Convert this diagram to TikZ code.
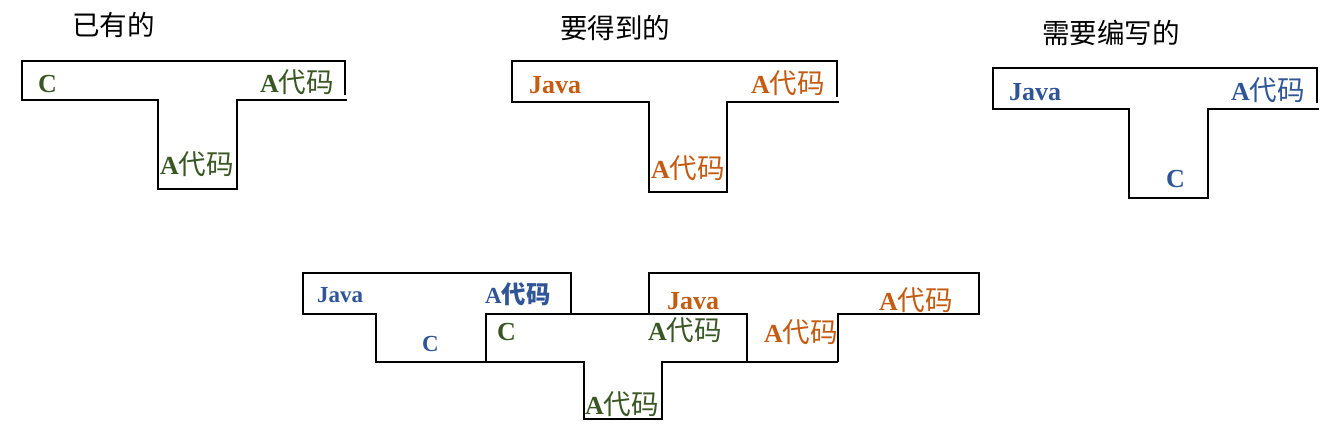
\documentclass[tikz,border=0pt]{standalone}
\usepackage{fontspec}
\setmainfont{Liberation Serif}
\newfontfamily\cjk[Scale=1.06]{Noto Sans CJK SC}
\definecolor{CodeGreen}{HTML}{385723}
\definecolor{CodeOrange}{HTML}{C55A11}
\definecolor{CodeBlue}{HTML}{2F5597}
\definecolor{CodeBlack}{HTML}{000000}
\usepackage{tikz}
\usetikzlibrary{positioning}
\newcommand{\acode}{A{\cjk\mdseries 代码}}
\newcommand{\acodebold}{A{\cjk 代码}}
\tikzset{
    outline/.style={
        draw=CodeBlack,
        line width=1.6pt,
        line join=miter
    },
    heading/.style={
        font=\cjk\fontsize{26}{30}\selectfont,
        text=CodeBlack,
        anchor=base west,
        inner sep=0pt
    },
    label/.style={
        font=\bfseries\fontsize{26}{30}\selectfont,
        text=#1,
        anchor=base west,
        inner sep=0pt
    },
    label/.default=CodeGreen,
    smalllabel/.style={
        font=\bfseries\fontsize{23}{27}\selectfont,
        text=#1,
        anchor=base west,
        inner sep=0pt
    },
    smalllabel/.default=CodeBlue
}

\begin{document}
\begin{tikzpicture}[x=1pt, y=-1pt]
        \useasboundingbox (0,0) rectangle (1336,432);

        % Existing block
        \node[heading] (havetitle) at (72,35) {已有的};
        \draw[outline] (345,95) -- (345,61) -- (22,61) -- (22,100) -- (158,100) -- (158,189) -- (237,189) -- (237,100) -- (347,100);
        \node[label=CodeGreen] (haveleft) at (38,92) {C};
        \node[label=CodeGreen] (haveright) at (260,92) {\acode};
        \node[label=CodeGreen] (havestem) at (160,174) {\acode};

        % Wanted block
        \node[heading] (wanttitle) at (560,38) {要得到的};
        \draw[outline] (837,97) -- (837,61) -- (512,61) -- (512,102) -- (649,102) -- (649,192) -- (727,192) -- (727,102) -- (839,102);
        \node[label=CodeOrange] (wantleft) at (529,93) {Java};
        \node[label=CodeOrange] (wantright) at (751,93) {\acode};
        \node[label=CodeOrange] (wantstem) at (651,178) {\acode};

        % Block to be written
        \node[heading] (writetitle) at (1042,43) {需要编写的};
        \draw[outline] (1317,103) -- (1317,68) -- (993,68) -- (993,109) -- (1129,109) -- (1129,198) -- (1208,198) -- (1208,109) -- (1319,109);
        \node[label=CodeBlue] (writeleft) at (1009,100) {Java};
        \node[label=CodeBlue] (writeright) at (1231,100) {\acode};
        \node[label=CodeBlue] (writestem) at (1166,187) {C};

        % Combined: blue adapter
        \draw[outline] (571,314) -- (571,273) -- (303,273) -- (303,314) -- (376,314) -- (376,362) -- (486,362);
        \node[smalllabel=CodeBlue] (joinjava) at (317,302) {Java};
        \node[smalllabel=CodeBlue] (joinacode) at (485,303) {\acodebold};
        \node[smalllabel=CodeBlue] (joinc) at (422,351) {C};

        % Combined: green existing
        \draw[outline] (747,362) -- (747,314) -- (486,314) -- (486,362) -- (584,362) -- (584,419) -- (662,419) -- (662,362) -- (838,362);
        \node[label=CodeGreen] (basec) at (497,340) {C};
        \node[label=CodeGreen] (baseright) at (648,340) {\acode};
        \node[label=CodeGreen] (basestem) at (585,414) {\acode};

        % Combined: orange result
        \draw[outline] (649,314) -- (649,273) -- (979,273) -- (979,314) -- (838,314) -- (838,362);
        \node[label=CodeOrange] (resultjava) at (667,309) {Java};
        \node[label=CodeOrange] (resultright) at (879,310) {\acode};
        \node[label=CodeOrange] (resultstem) at (764,342) {\acode};
    \end{tikzpicture}
\end{document}
